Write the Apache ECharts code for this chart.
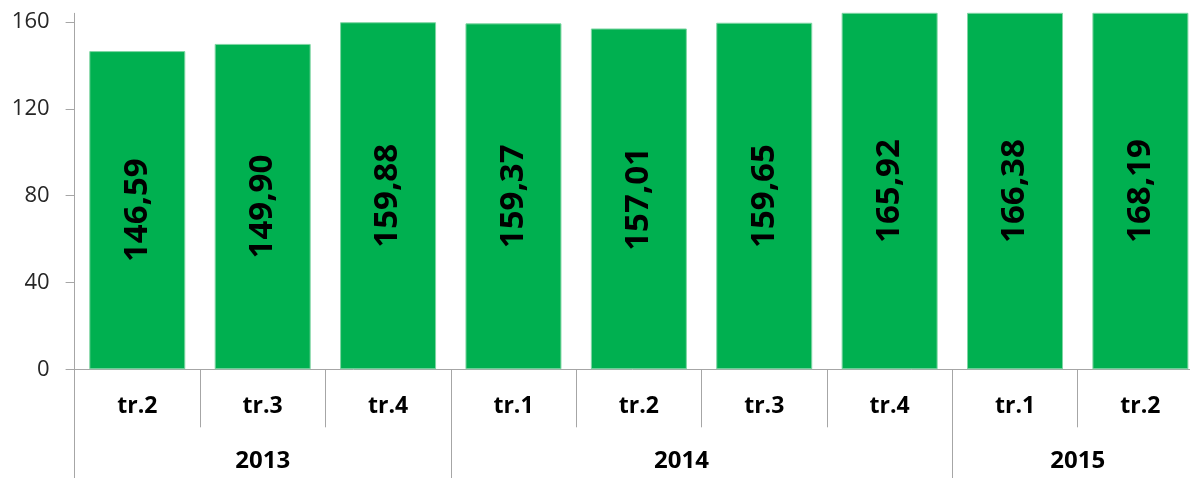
<!DOCTYPE html>
<html>
<head>
<meta charset="utf-8">
<script src="https://cdn.jsdelivr.net/npm/echarts@6/dist/echarts.min.js"></script>
<style>
  html, body { margin: 0; padding: 0; background: #fff; }
  #chart { width: 1190px; height: 478px; }
</style>
</head>
<body>
<div id="chart"></div>
<script>
// données du graphique
const quarters = ['tr.2', 'tr.3', 'tr.4', 'tr.1', 'tr.2', 'tr.3', 'tr.4', 'tr.1', 'tr.2'];
const values = [146.59, 149.90, 159.88, 159.37, 157.01, 159.65, 165.92, 166.38, 168.19];
const years = ['2013', '2014', '2015'];
const yearSpans = [3, 4, 2]; // nombre de trimestres par année
const yTicks = [0, 40, 80, 120, 160];

// axe des années : points tous les demi-trimestres
const halfCount = quarters.length * 2 + 1;
const halfPoints = [];
for (let i = 0; i < halfCount; i++) halfPoints.push(String(i));
const yearBounds = [0];
const yearCenters = {};
let acc = 0;
yearSpans.forEach((s, i) => {
    yearCenters[acc + s] = i; // centre en demi-unités = 2*acc + s
    acc += s;
    yearBounds.push(acc * 2);
});
const centerIndex = {};
acc = 0;
yearSpans.forEach((s, i) => {
    centerIndex[acc * 2 + s] = i;
    acc += s;
});

const chart = echarts.init(document.getElementById('chart'));
const gray = '#a6a6a6';
const font = 'Open Sans';

chart.setOption({
    animation: false,
    grid: {
        left: 74.6,
        top: 13.3,
        width: 1128.5,
        height: 356,
        containLabel: false,
        outerBoundsMode: 'none'
    },
    xAxis: [
        {
            type: 'category',
            data: quarters,
            position: 'bottom',
            axisLine: { show: true, lineStyle: { color: gray, width: 1 } },
            axisTick: { show: true, interval: 0, length: 58, lineStyle: { color: gray } },
            axisLabel: {
                interval: 0,
                margin: 26,
                fontFamily: font,
                fontSize: 23,
                fontWeight: 'bold',
                color: '#000'
            },
            splitLine: { show: false }
        },
        {
            type: 'category',
            data: halfPoints,
            boundaryGap: false,
            position: 'bottom',
            axisLine: { show: false },
            axisTick: {
                show: true,
                length: 120,
                interval: (idx) => yearBounds.indexOf(idx) >= 0,
                lineStyle: { color: gray }
            },
            axisLabel: {
                margin: 80,
                interval: (idx) => centerIndex[idx] !== undefined,
                fontFamily: font,
                fontSize: 24,
                fontWeight: 'bold',
                color: '#000',
                formatter: (v, idx) => {
                    const y = centerIndex[idx];
                    if (y === undefined) return '';
                    return y === 1 ? '{o|' + years[y] + '}' : years[y];
                },
                rich: {
                    o: {
                        fontFamily: font,
                        fontSize: 24,
                        fontWeight: 'bold',
                        color: '#000',
                        padding: [0, 40, 0, 0]
                    }
                }
            },
            splitLine: { show: false }
        }
    ],
    yAxis: {
        type: 'value',
        min: 0,
        max: 164,
        axisLine: { show: true, lineStyle: { color: gray } },
        axisTick: { show: true, length: 9, customValues: yTicks, lineStyle: { color: gray } },
        axisLabel: {
            customValues: yTicks,
            margin: 25,
            fontFamily: font,
            fontSize: 22,
            color: '#262626'
        },
        splitLine: { show: false }
    },
    series: [
        {
            type: 'bar',
            data: values,
            xAxisIndex: 0,
            barWidth: 96,
            clip: true,
            itemStyle: { color: '#00b050', borderColor: '#7fd6a4', borderWidth: 1 },
            label: {
                show: true,
                position: 'inside',
                rotate: 90,
                fontFamily: font,
                fontSize: 33,
                fontWeight: 'bold',
                color: '#000',
                formatter: (p) => p.value.toFixed(2).replace('.', ',')
            }
        }
    ]
});
</script>
</body>
</html>
